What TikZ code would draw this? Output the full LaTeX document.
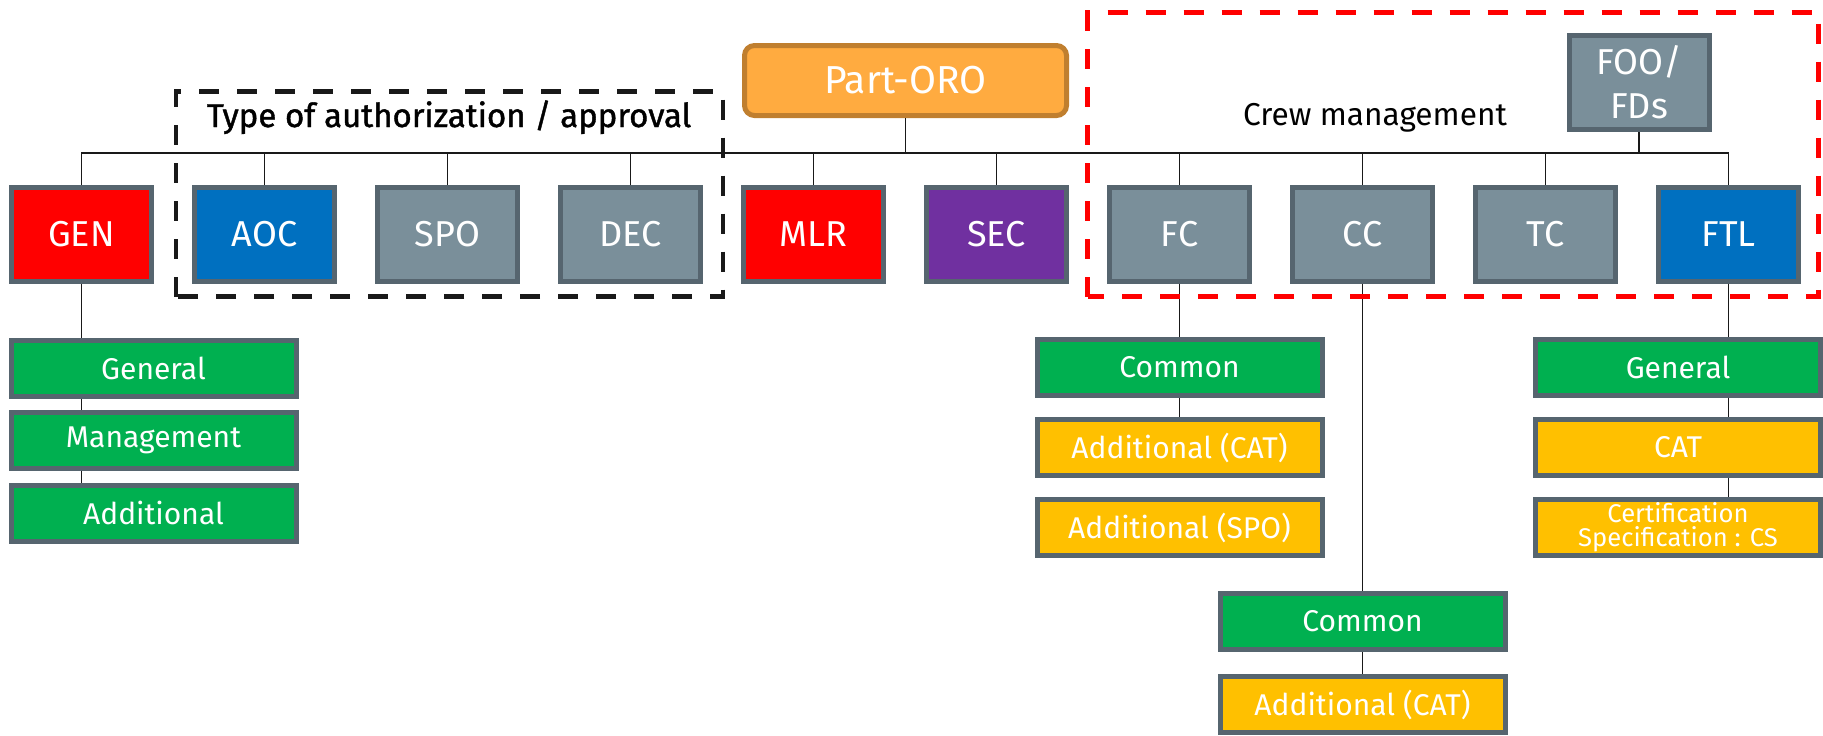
\documentclass[tikz,border=0pt]{standalone}
\usepackage{fontspec}
\setmainfont{Fira Sans}
\newfontfamily\capfont[FakeBold=1.2]{Fira Sans}
\usepackage{tikz}
\usepackage{xcolor}
\usetikzlibrary{positioning,calc}

\definecolor{boxedge}{HTML}{56656F}
\definecolor{genred}{HTML}{FF0000}
\definecolor{aocblue}{HTML}{0070C0}
\definecolor{slate}{HTML}{7A8F9A}
\definecolor{secpurple}{HTML}{7030A0}
\definecolor{subgreen}{HTML}{00B050}
\definecolor{subgold}{HTML}{FFC000}
\definecolor{orofill}{HTML}{FFAB40}
\definecolor{oroedge}{HTML}{C07F2F}

\begin{document}
\begin{tikzpicture}[on grid, node distance=91.5pt, align=center, text=white]

    \tikzstyle{part}=[draw=boxedge,line width=2.5pt,rectangle,minimum width=70pt,minimum height=47pt,font=\fontsize{18}{22}\selectfont]
    \tikzstyle{sub}=[draw=boxedge,line width=2.5pt,rectangle,minimum width=142.5pt,minimum height=28pt,font=\fontsize{15}{17}\selectfont]
    \tikzstyle{link}=[draw=black!90,line width=0.7pt]
    \tikzstyle{frame}=[line width=2.25pt,dash pattern=on 10pt off 9pt]
    \tikzstyle{caption}=[text=black,anchor=base,inner sep=0pt,font=\fontsize{15.8}{18}\selectfont]

    \useasboundingbox (0,0) rectangle (911.5pt,-367.5pt);

    \node[draw=oroedge, fill=orofill, line width=2.5pt, rounded corners=5pt, minimum width=161pt, minimum height=35pt,
          font=\fontsize{19.5}{22}\selectfont] (ORO) at (452.75pt,-40.25pt) {Part-ORO};

    \node[part, fill=genred]    (GEN) at (40.75pt,-117pt) {GEN};
    \node[part, fill=aocblue]   (AOC) [right of = GEN]    {AOC};
    \node[part, fill=slate]     (SPO) [right of = AOC]    {SPO};
    \node[part, fill=slate]     (DEC) [right of = SPO]    {DEC};
    \node[part, fill=genred]    (MLR) [right of = DEC]    {MLR};
    \node[part, fill=secpurple] (SEC) [right of = MLR]    {SEC};
    \node[part, fill=slate]     (FC)  [right of = SEC]    {FC};
    \node[part, fill=slate]     (CC)  [right of = FC]     {CC};
    \node[part, fill=slate]     (TC)  [right of = CC]     {TC};
    \node[part, fill=aocblue]   (FTL) [right of = TC]     {FTL};
    \node[part, fill=slate, font=\fontsize{18}{22}\selectfont] (FOO) at (819.5pt,-41.25pt) {FOO/\\FDs};

    \node[sub, fill=subgreen] (genGeneral) [below right=67.25pt and 36pt of GEN] {General};
    \node[sub, fill=subgreen] (genMgmt)    [below=36pt of genGeneral]            {Management};
    \node[sub, fill=subgreen] (genAdd)     [below=36.25pt of genMgmt]            {Additional};

    \node[sub, fill=subgreen] (fcCommon)   [below=66.75pt of FC]                 {Common};
    \node[sub, fill=subgold]  (fcAddCat)   [below=40pt of fcCommon]              {Additional (CAT)};
    \node[sub, fill=subgold]  (fcAddSpo)   [below=40pt of fcAddCat]              {Additional (SPO)};

    \node[sub, fill=subgreen] (ccCommon)   [below=193.75pt of CC]                {Common};
    \node[sub, fill=subgold]  (ccAddCat)   [below=41.5pt of ccCommon]            {Additional (CAT)};

    \node[sub, fill=subgreen] (ftlGeneral) [below left=66.5pt and 25.25pt of FTL] {General};
    \node[sub, fill=subgold]  (ftlCat)     [below=40.25pt of ftlGeneral]          {CAT};
    \node[sub, fill=subgold, inner ysep=0pt, font=\fontsize{12.8}{12}\selectfont]
                              (ftlCert)    [below=40pt of ftlCat]                 {Certification\\Specification : CS};

    \coordinate (bus) at (0,-76.5pt);
    \draw[link] (ORO.south) -- (ORO.south |- bus);
    \draw[link] (GEN.north) |- (bus -| FTL.north) -- (FTL.north);
    \draw[link] (AOC.north) -- (AOC.north |- bus);
    \draw[link] (SPO.north) -- (SPO.north |- bus);
    \draw[link] (DEC.north) -- (DEC.north |- bus);
    \draw[link] (MLR.north) -- (MLR.north |- bus);
    \draw[link] (SEC.north) -- (SEC.north |- bus);
    \draw[link] (FC.north)  -- (FC.north |- bus);
    \draw[link] (CC.north)  -- (CC.north |- bus);
    \draw[link] (TC.north)  -- (TC.north |- bus);
    \draw[link] (FOO.south) -- (FOO.south |- bus);

    \draw[link] (GEN.south) -- (GEN.south |- genGeneral.north);
    \draw[link] (genGeneral.south -| GEN) -- (genMgmt.north -| GEN);
    \draw[link] (genMgmt.south -| GEN) -- (genAdd.north -| GEN);
    \draw[link] (FC.south) -- (fcCommon.north);
    \draw[link] (fcCommon.south) -- (fcAddCat.north);
    \draw[link] (CC.south) -- (ccCommon.north);
    \draw[link] (ccCommon.south) -- (ccAddCat.north);
    \draw[link] (FTL.south) -- (FTL.south |- ftlGeneral.north);
    \draw[link] (ftlGeneral.south -| FTL) -- (ftlCat.north -| FTL);
    \draw[link] (ftlCat.south -| FTL) -- (ftlCert.north -| FTL);

    \node[caption, font=\capfont\fontsize{16.5}{18}\selectfont] (typeLbl) at (224.5pt,-63.5pt) {Type of authorization / approval};
    \node[caption] (crewLbl) at (687.5pt,-62.5pt) {Crew management};

    \draw[frame, draw=black!90] ($(AOC.south west)+(-8pt,-6.5pt)$) rectangle ($(DEC.north east)+(10pt,46.5pt)$);
    \draw[frame, draw=red] ($(FC.south west)+(-9.75pt,-6.5pt)$) rectangle ($(FTL.east |- FOO.north)+(8.75pt,10.25pt)$);
\end{tikzpicture}
\end{document}
